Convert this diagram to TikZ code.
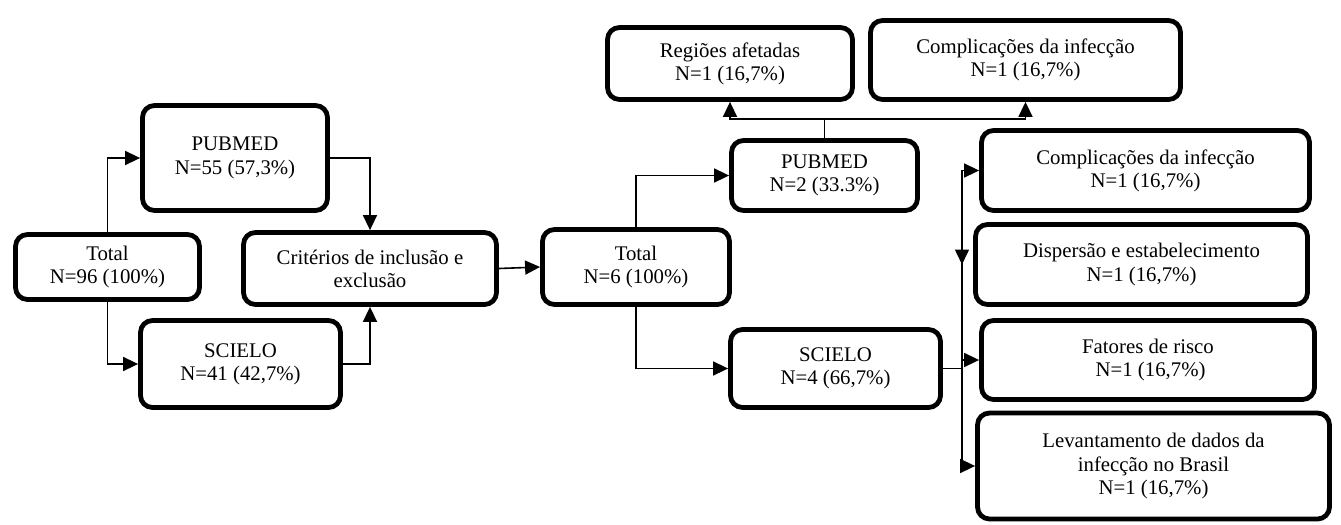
\documentclass[tikz,border=0pt]{standalone}
\usepackage{fontspec}
\setmainfont{Liberation Serif}
\usetikzlibrary{arrows.meta}
\tikzset{
  box/.style={
    rectangle,
    rounded corners=6pt,
    draw=black,
    line width=2.4pt,
    align=center,
    inner sep=0pt,
    font=\fontsize{10.4}{11.6}\selectfont
  },
  arrow/.style={
    -{Triangle[length=7.5pt,width=7pt]},
    line width=0.8pt,
    draw=black
  },
  line/.style={
    line width=0.8pt,
    draw=black
  }
}
\begin{document}
\begin{tikzpicture}[x=0.5pt,y=-0.5pt]
  \useasboundingbox (0,0) rectangle (1341,525);

  % first search
  \node[box, minimum width=92pt, minimum height=32.5pt] (total1) at (107.5,267) {Total\\N=96 (100\%)};
  \node[box, minimum width=92.5pt, minimum height=52.5pt] (pub1) at (235,158) {PUBMED\\N=55 (57,3\%)};
  \node[box, minimum width=100pt, minimum height=43.5pt] (sci1) at (240.5,364) {SCIELO\\N=41 (42,7\%)};
  \node[box, minimum width=126.5pt, minimum height=36pt] (crit) at (370,268.5) {Critérios de inclusão e\\exclusão};

  % selected articles
  \node[box, minimum width=93.5pt, minimum height=37.5pt] (total2) at (636,267) {Total\\N=6 (100\%)};
  \node[box, minimum width=93pt, minimum height=35pt] (pub2) at (824.5,175.5) {PUBMED\\N=2 (33.3\%)};
  \node[box, minimum width=105pt, minimum height=39pt] (sci2) at (835.5,368.5) {SCIELO\\N=4 (66,7\%)};

  % themes
  \node[box, minimum width=122.5pt, minimum height=36pt] (reg) at (730,63.5) {Regiões afetadas\\N=1 (16,7\%)};
  \node[box, minimum width=155pt, minimum height=39.5pt] (comp1) at (1025.5,60) {Complicações da infecção\\N=1 (16,7\%)};
  \node[box, minimum width=164pt, minimum height=40pt] (comp2) at (1145.5,170.5) {Complicações da infecção\\N=1 (16,7\%)};
  \node[box, minimum width=166pt, minimum height=40pt] (disp) at (1141.5,264.5) {Dispersão e estabelecimento\\N=1 (16,7\%)};
  \node[box, minimum width=166.5pt, minimum height=39.5pt] (fat) at (1148,360) {Fatores de risco\\\ N=1 (16,7\%)};
  \node[box, minimum width=176pt, minimum height=53pt] (lev) at (1153.5,466) {Levantamento de dados da\\infecção no Brasil\\N=1 (16,7\%)};

  \coordinate (ptop) at (824.5,119);
  \coordinate (bus) at (962,368.5);

  \draw[arrow] (total1.north) |- (pub1.west);
  \draw[arrow] (total1.south) |- (sci1.west);
  \draw[arrow] (pub1.east) -| (crit.north);
  \draw[arrow] (sci1.east) -| (crit.south);
  \draw[arrow] (crit.east) -- (total2.west);
  \draw[arrow] (total2.north) |- (pub2.west);
  \draw[arrow] (total2.south) |- (sci2.west);
  \draw[line] (pub2.north) -- (ptop);
  \draw[arrow] (ptop) -| (reg.south);
  \draw[arrow] (ptop) -| (comp1.south);
  \draw[line] (sci2.east) -- (bus);
  \draw[arrow] (bus) |- (comp2.west);
  \draw[arrow] (bus |- comp2.west) -- (bus |- disp.west);
  \draw[arrow] (bus) |- (fat.west);
  \draw[arrow] (bus) |- (lev.west);
\end{tikzpicture}
\end{document}
